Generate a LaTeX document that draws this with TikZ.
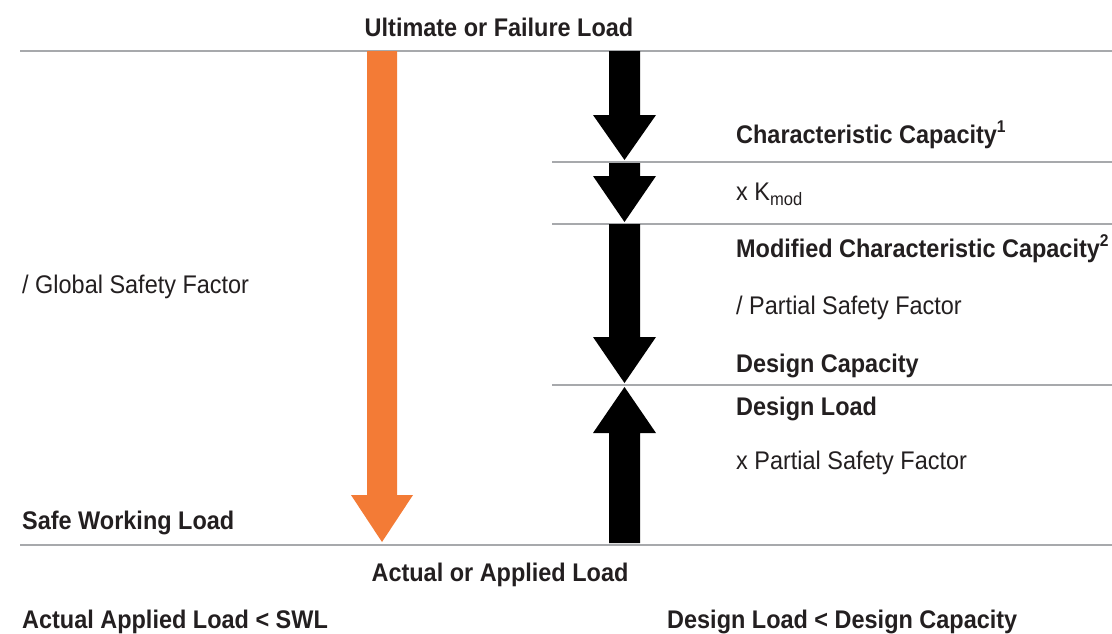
\documentclass[tikz,border=0pt]{standalone}
\usepackage{fontspec}
\setmainfont[FakeStretch=0.92]{Liberation Sans}
\definecolor{txt}{HTML}{231F20}
\definecolor{rulegray}{HTML}{A7A9AC}
\definecolor{orng}{HTML}{F37B36}
\tikzset{
  lbl/.style={anchor=base west, inner sep=0pt, text=txt, font=\fontsize{25.5}{25.5}\selectfont},
  blbl/.style={anchor=base west, inner sep=0pt, text=txt, font=\fontsize{25.5}{25.5}\selectfont\bfseries},
  clbl/.style={blbl, anchor=base},
  ruleline/.style={draw=rulegray, line width=1.4pt},
  blackarrow/.style={fill=black},
  orangearrow/.style={fill=orng},
}
\newcommand{\supnum}[1]{\raisebox{0.75ex}{\fontsize{17}{17}\selectfont #1}}
\newcommand{\subtxt}[1]{\raisebox{-0.4ex}{\fontsize{18}{18}\selectfont\mdseries #1}}
\begin{document}
\begin{tikzpicture}[x=1pt,y=-1pt]
\useasboundingbox (0,0) rectangle (1112,633);
% rules
\coordinate (topL) at (20,51);   \coordinate (topR) at (1112,51);
\coordinate (r1L) at (552,162);  \coordinate (r1R) at (1112,162);
\coordinate (r2L) at (552,224);  \coordinate (r2R) at (1112,224);
\coordinate (r3L) at (552,385);  \coordinate (r3R) at (1112,385);
\coordinate (botL) at (20,545);  \coordinate (botR) at (1112,545);
\draw[ruleline] (topL) -- (topR);
\draw[ruleline] (r1L) -- (r1R);
\draw[ruleline] (r2L) -- (r2R);
\draw[ruleline] (r3L) -- (r3R);
\draw[ruleline] (botL) -- (botR);
% orange arrow
\fill[orangearrow] (367,51) -- (397,51) -- (397,495) -- (413,495) -- (382,542) -- (351,495) -- (367,495) -- cycle;
% black arrows
\fill[blackarrow] (609,51) -- (640,51) -- (640,115) -- (656,115) -- (624.5,160) -- (593,115) -- (609,115) -- cycle;
\fill[blackarrow] (609,163) -- (640,163) -- (640,176) -- (656,176) -- (624.5,222) -- (593,176) -- (609,176) -- cycle;
\fill[blackarrow] (609,224) -- (640,224) -- (640,337) -- (656,337) -- (624.5,383) -- (593,337) -- (609,337) -- cycle;
\fill[blackarrow] (609,543) -- (640,543) -- (640,433) -- (656,433) -- (624.5,387) -- (593,433) -- (609,433) -- cycle;
% labels
\node[clbl] (ult) at (499,36) {Ultimate or Failure Load};
\node[blbl] (charcap) at (736,143) {Characteristic Capacity\supnum{1}};
\node[lbl] (kmod) at (736,200) {x K\subtxt{mod}};
\node[blbl] (modcap) at (736,257) {Modified Characteristic Capacity\supnum{2}};
\node[lbl] (psf1) at (736,314) {/ Partial Safety Factor};
\node[blbl] (dcap) at (736,372) {Design Capacity};
\node[blbl] (dload) at (736,415) {Design Load};
\node[lbl] (psf2) at (736,469) {x Partial Safety Factor};
\node[lbl] (gsf) at (22,293) {/ Global Safety Factor};
\node[blbl] (swl) at (22,529) {Safe Working Load};
\node[clbl] (actual) at (500,581) {Actual or Applied Load};
\node[blbl] (cond1) at (22,628) {Actual Applied Load < SWL};
\node[blbl] (cond2) at (667,628) {Design Load < Design Capacity};
\end{tikzpicture}
\end{document}
